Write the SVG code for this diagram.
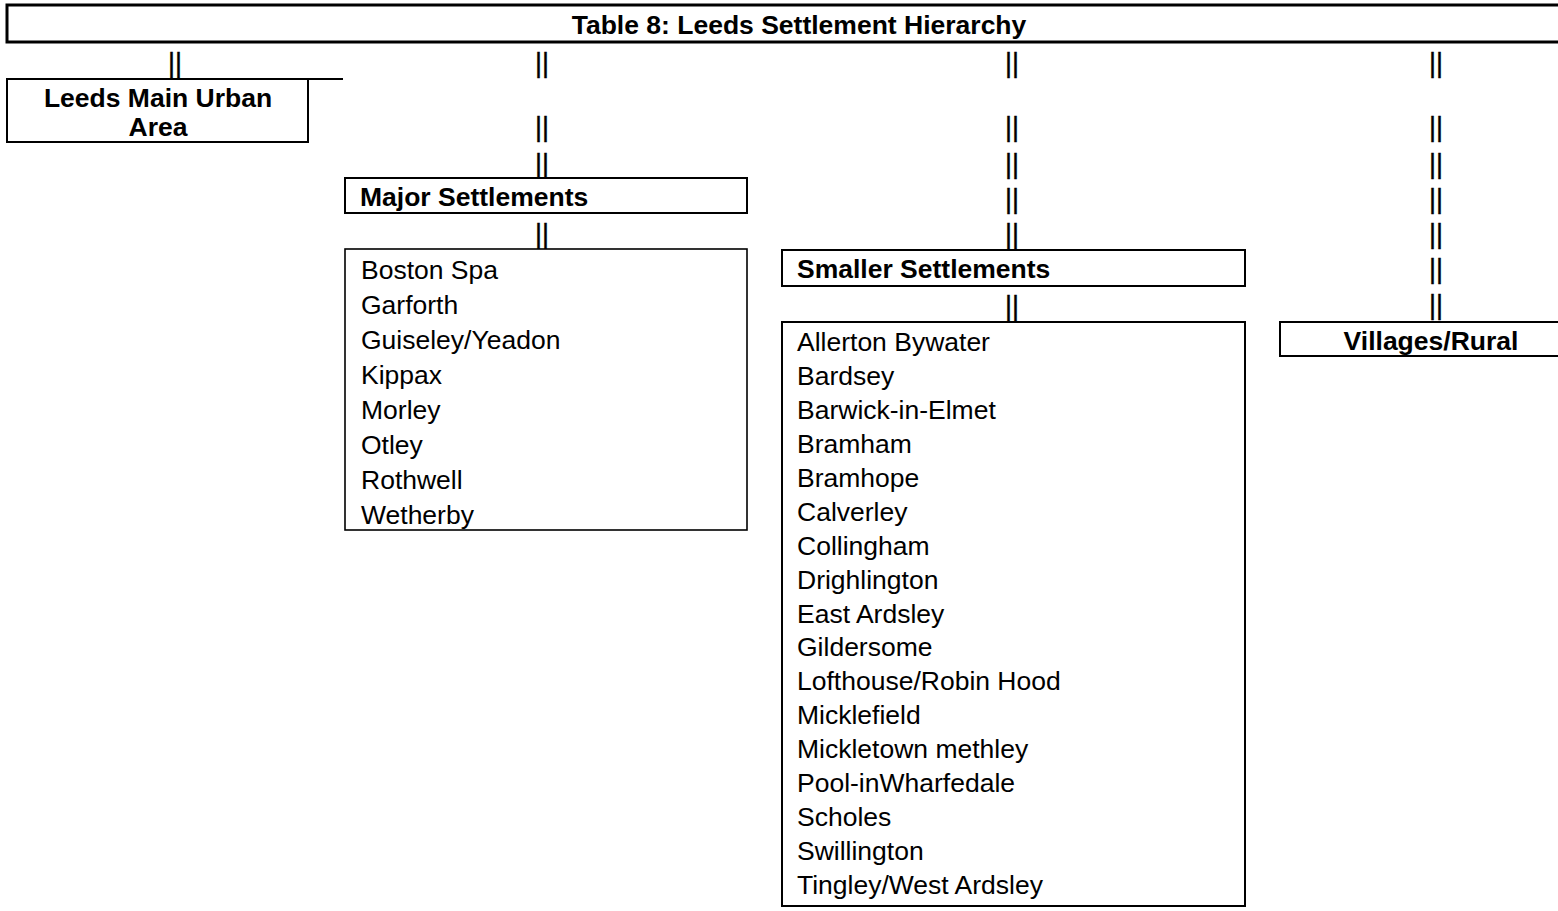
<svg xmlns="http://www.w3.org/2000/svg" width="1558" height="911" viewBox="0 0 1558 911">
<style>
.box{fill:#fff;stroke:#000;stroke-width:2}
.thick{stroke-width:3}
.thin{stroke-width:1.6}
text{font-family:"Liberation Sans",Arial,sans-serif;font-size:26.5px;fill:#000}
.b{font-weight:bold}
.c{text-anchor:middle}
.pipe{font-family:"Liberation Sans",Arial,sans-serif;font-size:27px;text-anchor:middle;stroke:#000;stroke-width:0.4}
</style>
<rect width="1558" height="911" fill="#fff"/>
<g id="connectors">
<text class="pipe" x="175" y="72">||</text>
<text class="pipe" x="542" y="72">||</text>
<text class="pipe" x="542" y="136">||</text>
<text class="pipe" x="542" y="173">||</text>
<text class="pipe" x="542" y="243">||</text>
<text class="pipe" x="1012" y="72">||</text>
<text class="pipe" x="1012" y="136">||</text>
<text class="pipe" x="1012" y="173">||</text>
<text class="pipe" x="1012" y="208">||</text>
<text class="pipe" x="1012" y="243">||</text>
<text class="pipe" x="1012" y="315">||</text>
<text class="pipe" x="1436" y="72">||</text>
<text class="pipe" x="1436" y="136">||</text>
<text class="pipe" x="1436" y="173">||</text>
<text class="pipe" x="1436" y="208">||</text>
<text class="pipe" x="1436" y="243">||</text>
<text class="pipe" x="1436" y="278">||</text>
<text class="pipe" x="1436" y="314">||</text>
</g>
<g id="title">
<rect class="box thick" x="7" y="5" width="1565" height="37"/>
<text class="b c" x="799" y="34">Table 8: Leeds Settlement Hierarchy</text>
</g>
<g id="leeds-main-urban">
<path class="box" d="M343,79 H7 V142 H308 V79"/>
<text class="b c" x="158" y="107">Leeds Main Urban</text>
<text class="b c" x="158" y="136">Area</text>
</g>
<g id="major-settlements">
<rect class="box" x="345" y="178" width="402" height="35"/>
<text class="b" x="360" y="206">Major Settlements</text>
</g>
<g id="major-list">
<rect class="box thin" x="345" y="249" width="402" height="281"/>
<text x="361" y="279">Boston Spa</text>
<text x="361" y="314">Garforth</text>
<text x="361" y="349">Guiseley/Yeadon</text>
<text x="361" y="384">Kippax</text>
<text x="361" y="419">Morley</text>
<text x="361" y="454">Otley</text>
<text x="361" y="489">Rothwell</text>
<text x="361" y="523.5">Wetherby</text>
</g>
<g id="smaller-settlements">
<rect class="box" x="782" y="250" width="463" height="36"/>
<text class="b" x="797" y="278">Smaller Settlements</text>
</g>
<g id="smaller-list">
<rect class="box" x="782" y="322" width="463" height="584"/>
<text x="797" y="351">Allerton Bywater</text>
<text x="797" y="385">Bardsey</text>
<text x="797" y="419">Barwick-in-Elmet</text>
<text x="797" y="453">Bramham</text>
<text x="797" y="487">Bramhope</text>
<text x="797" y="521">Calverley</text>
<text x="797" y="555">Collingham</text>
<text x="797" y="589">Drighlington</text>
<text x="797" y="623">East Ardsley</text>
<text x="797" y="656">Gildersome</text>
<text x="797" y="690">Lofthouse/Robin Hood</text>
<text x="797" y="724">Micklefield</text>
<text x="797" y="758">Mickletown methley</text>
<text x="797" y="792">Pool-inWharfedale</text>
<text x="797" y="826">Scholes</text>
<text x="797" y="860">Swillington</text>
<text x="797" y="894">Tingley/West Ardsley</text>
</g>
<g id="villages-rural">
<rect class="box" x="1280" y="322" width="290" height="34"/>
<text class="b c" x="1431" y="350">Villages/Rural</text>
</g>
</svg>
